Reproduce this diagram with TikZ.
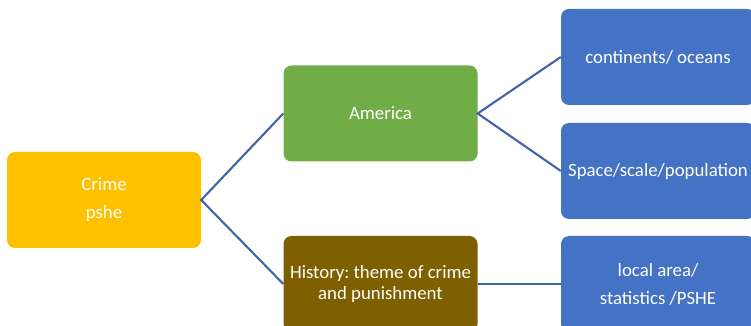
\documentclass[tikz,border=0pt]{standalone}
\usepackage{fontspec}
\setmainfont{Carlito}
\frenchspacing
\definecolor{crimeC}{RGB}{255,192,0}
\definecolor{amerC}{RGB}{112,173,71}
\definecolor{histC}{RGB}{127,96,0}
\definecolor{blueC}{RGB}{68,114,196}
\definecolor{lineC}{RGB}{64,100,170}
\begin{document}
\begin{tikzpicture}[x=1pt,y=1pt,
  box/.style={rounded corners=8pt, minimum width=194pt, minimum height=96pt,
    text=white, align=center, inner sep=0pt, font=\fontsize{18.8}{28}\selectfont},
  conn/.style={draw=lineC, line width=2.1pt}]
\useasboundingbox (0,0) rectangle (751,326);
\clip (0,0) rectangle (751,326);
\node[box, fill=crimeC] (crime) at (104,126) {Crime\\pshe};
\node[box, fill=amerC] (amer) at (380.5,212.5) {America};
\node[box, fill=histC, font=\fontsize{18.8}{21}\selectfont] (hist) at (380.5,42) {History: theme of crime\\and punishment};
\node[box, fill=blueC] (b1) at (658,269) {continents/ oceans};
\node[box, fill=blueC] (b2) at (658,155) {Space/scale/population};
\node[box, fill=blueC] (b3) at (658,42) {local area/\\statistics /PSHE};
\draw[conn] (amer.west) -- (crime.east) -- (hist.west);
\draw[conn] (b1.west) -- (amer.east) -- (b2.west);
\draw[conn] (hist.east) -- (b3.west);
\end{tikzpicture}
\end{document}
